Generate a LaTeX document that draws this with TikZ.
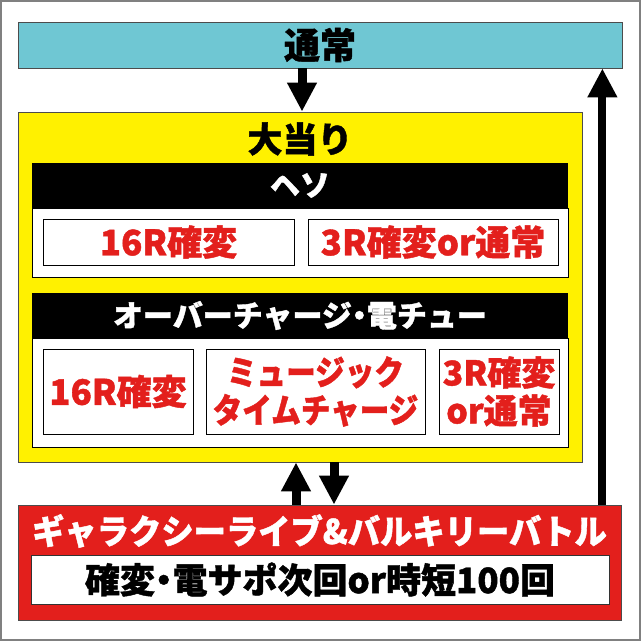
\documentclass[tikz,border=0pt]{standalone}
\usepackage{fontspec}
\newfontfamily\jpfont{Noto Sans CJK JP}[BoldFeatures={FakeBold=1.2}]
\newfontfamily\jpcond{Noto Sans CJK JP}[FakeStretch=0.95,BoldFeatures={FakeBold=1.2}]
\newfontfamily\jpnarrow{Noto Sans CJK JP}[FakeStretch=0.87,BoldFeatures={FakeBold=1.2}]
\newcommand\halfdot{\kern-0.25em・\kern-0.25em}
\usetikzlibrary{positioning}
\usetikzlibrary{arrows.meta}
\definecolor{tsujoblue}{HTML}{6FC7D3}
\definecolor{atariyellow}{HTML}{FFF100}
\definecolor{battlered}{HTML}{E31F1C}

\begin{document}
\begin{tikzpicture}[
  x=1pt, y=-1pt,
  node distance=13pt,
  every node/.style={inner sep=0pt, font=\jpfont\bfseries},
  bigbox/.style={draw=black!70, line width=0.8pt},
  header/.style={fill=black, text=white, minimum width=536pt, minimum height=45pt,
    font=\jpfont\bfseries\fontsize{30}{32}\selectfont},
  panel/.style={fill=white, draw=black, line width=0.8pt, minimum width=536pt},
  result/.style={draw=black, line width=1pt, fill=white, text=battlered, align=center,
    font=\jpfont\bfseries\fontsize{35}{38}\selectfont},
  bigarrow/.style={line width=9pt, -{Triangle[length=29pt,width=28pt]}}
]
\useasboundingbox (0,0) rectangle (641,641);
\draw[black!50, line width=2pt] (1,1) rectangle (640,640);

% normal state
\node[bigbox, fill=tsujoblue, minimum width=604pt, minimum height=46pt,
  font=\jpfont\bfseries\fontsize{36}{38}\selectfont] (tsujo) at (320,45) {通常};

% jackpot
\node[bigbox, fill=atariyellow, minimum width=564pt, minimum height=350pt] (atari) at (300,287) {};
\node[font=\jpfont\bfseries\fontsize{35}{36}\selectfont] (atarilabel) at (300,139) {大当り};

\node[panel, minimum height=69pt] (hesopanel) at (300,242.5) {};
\node[header] (heso) at (300,185.5) {ヘソ};
\node[result, minimum width=251pt, minimum height=46pt] (heso16) at (168.5,242) {16R確変};
\node[result, minimum width=250pt, minimum height=46pt, right=of heso16] (heso3) {3R確変or通常};

\node[panel, minimum height=109pt] (overpanel) at (300,392.5) {};
\node[header] (over) at (300,315.5) {オーバーチャージ\halfdot 電チュー};
\node[result, minimum width=150pt, minimum height=85pt] (over16) at (118,391.5) {16R確変};
\node[result, minimum width=219pt, minimum height=85pt, right=12pt of over16,
  font=\jpnarrow\bfseries\fontsize{34}{38}\selectfont] (music) {ミュージック\\タイムチャージ};
\node[result, minimum width=120pt, minimum height=85pt, right=of music,
  font=\jpfont\bfseries\fontsize{34}{38}\selectfont] (over3) {3R確変\\or通常};

% battle
\node[bigbox, fill=battlered, minimum width=603pt, minimum height=115pt] (battle) at (319.5,562.5) {};
\node[text=white, font=\jpcond\bfseries\fontsize{34}{36}\selectfont] (battlelabel) at (319.5,531) {ギャラクシーライブ\&バルキリーバトル};
\node[draw=black!80, line width=0.8pt, fill=white, minimum width=578pt, minimum height=49pt,
  font=\jpfont\bfseries\fontsize{35}{36}\selectfont] (battlenote) at (320,579.5) {確変\halfdot 電サポ次回or時短100回};

\draw[bigarrow] ([xshift=2pt]atari.north |- tsujo.south) -- ([xshift=2pt]atari.north);
\draw[bigarrow] ([xshift=-4pt]atari.south |- battle.north) -- ([xshift=-4pt]atari.south);
\draw[bigarrow] ([xshift=34pt]atari.south) -- ([xshift=34pt]atari.south |- battle.north);
\draw[bigarrow, line width=8pt] ([xshift=-19pt]battle.north east) -- ([xshift=-19pt]battle.north east |- tsujo.south);

\end{tikzpicture}
\end{document}
